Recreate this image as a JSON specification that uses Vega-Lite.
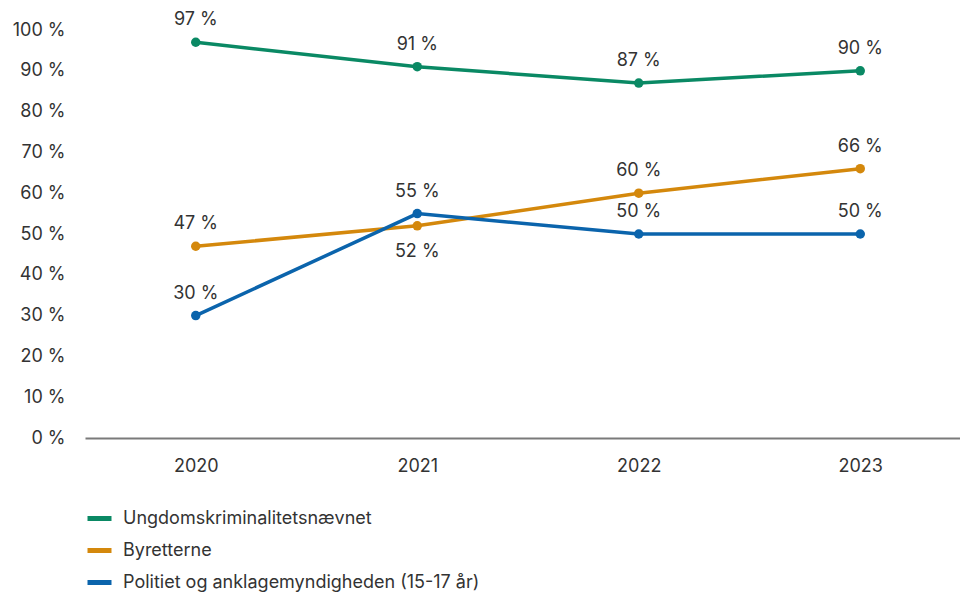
{
  "$schema": "https://vega.github.io/schema/vega-lite/v6.json",
  "autosize": {"type": "none"},
  "width": 886,
  "height": 408,
  "padding": {"left": 85, "top": 30, "right": 0, "bottom": 154},
  "background": "white",
  "config": {
    "view": {"stroke": null},
    "font": "Inter",
    "axis": {"labelFont": "Inter", "labelFontSize": 18, "labelColor": "#333333", "grid": false, "ticks": false, "title": null},
    "legend": {"labelFont": "Inter", "labelFontSize": 18, "labelColor": "#333333"}
  },
  "data": {
    "values": [
      {"year": "2020", "serie": "Ungdomskriminalitetsnævnet", "value": 97},
      {"year": "2021", "serie": "Ungdomskriminalitetsnævnet", "value": 91},
      {"year": "2022", "serie": "Ungdomskriminalitetsnævnet", "value": 87},
      {"year": "2023", "serie": "Ungdomskriminalitetsnævnet", "value": 90},
      {"year": "2020", "serie": "Byretterne", "value": 47},
      {"year": "2021", "serie": "Byretterne", "value": 52},
      {"year": "2022", "serie": "Byretterne", "value": 60},
      {"year": "2023", "serie": "Byretterne", "value": 66},
      {"year": "2020", "serie": "Politiet og anklagemyndigheden (15-17 år)", "value": 30},
      {"year": "2021", "serie": "Politiet og anklagemyndigheden (15-17 år)", "value": 55},
      {"year": "2022", "serie": "Politiet og anklagemyndigheden (15-17 år)", "value": 50},
      {"year": "2023", "serie": "Politiet og anklagemyndigheden (15-17 år)", "value": 50}
    ]
  },
  "encoding": {
    "x": {
      "field": "year", "type": "ordinal",
      "scale": {"type": "point", "padding": 0.5},
      "axis": {"labelAngle": 0, "domainColor": "#7a7a7a", "domainWidth": 2, "labelPadding": 19}
    },
    "y": {
      "field": "value", "type": "quantitative",
      "scale": {"domain": [0, 100], "nice": false},
      "axis": {"values": [0,10,20,30,40,50,60,70,80,90,100], "domain": false, "labelPadding": 20, "labelExpr": "datum.value + ' %'"}
    },
    "color": {
      "field": "serie", "type": "nominal",
      "scale": {
        "domain": ["Ungdomskriminalitetsnævnet", "Byretterne", "Politiet og anklagemyndigheden (15-17 år)"],
        "range": ["#0a8964", "#d4880c", "#0b64ac"]
      },
      "legend": {
        "orient": "bottom", "direction": "vertical", "title": null, "offset": 29,
        "symbolType": "stroke", "symbolStrokeWidth": 5, "symbolSize": 576,
        "labelOffset": 9, "rowPadding": 7, "padding": 0, "labelLimit": 600
      }
    }
  },
  "transform": [{"calculate": "datum.value + ' %'", "as": "label"}],
  "layer": [
    {"mark": {"type": "line", "strokeWidth": 3.5}},
    {"mark": {"type": "circle", "size": 90, "opacity": 1}},
    {
      "transform": [{"filter": "!(datum.serie === 'Byretterne' && datum.year === '2021')"}],
      "mark": {"type": "text", "dy": -22, "fontSize": 18, "font": "Inter"},
      "encoding": {"text": {"field": "label", "type": "nominal"}, "color": {"value": "#333333"}}
    },
    {
      "transform": [{"filter": "datum.serie === 'Byretterne' && datum.year === '2021'"}],
      "mark": {"type": "text", "dy": 26, "fontSize": 18, "font": "Inter"},
      "encoding": {"text": {"field": "label", "type": "nominal"}, "color": {"value": "#333333"}}
    }
  ]
}
